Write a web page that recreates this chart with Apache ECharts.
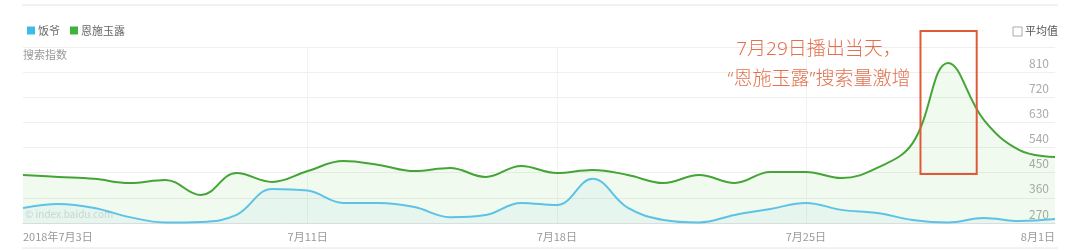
<!DOCTYPE html>
<html>
<head>
<meta charset="utf-8">
<script src="https://cdn.jsdelivr.net/npm/echarts@6/dist/echarts.min.js"></script>
<style>
html,body{margin:0;padding:0;background:#fff;}
#c{width:1080px;height:250px;}
</style>
</head>
<body>
<div id="c"></div>
<script>
// ---- data ----
const dates = ['7月3日','7月4日','7月5日','7月6日','7月7日','7月8日','7月9日','7月10日','7月11日','7月12日',
  '7月13日','7月14日','7月15日','7月16日','7月17日','7月18日','7月19日','7月20日','7月21日','7月22日',
  '7月23日','7月24日','7月25日','7月26日','7月27日','7月28日','7月29日','7月30日','7月31日','8月1日'];
const tickLabels = {0:'2018年7月3日', 8:'7月11日', 15:'7月18日', 22:'7月25日', 29:'8月1日'};
const fanye = [324,338,324,291,272,274,299,392,386,342,342,327,291,299,342,334,428,324,281,272,
  299,320,342,317,306,281,272,288,277,284];
const enshi = [442,435,428,413,424,370,449,417,456,492,478,456,467,435,474,449,460,442,413,442,
  413,453,453,431,467,556,843,639,531,506];
const yTicks = [270,360,450,540,630,720,810];
const seriesNames = ['饭爷','恩施玉露'];
const annotation = ['7月29日播出当天，','“恩施玉露”搜索量激增'];

const font = '"Noto Sans CJK SC","Noto Sans",sans-serif';
const annFont = '"Noto Sans","Noto Sans CJK SC",sans-serif';
const chart = echarts.init(document.getElementById('c'));
const option = {
  animation:false,
  textStyle:{fontFamily:font},
  grid:{left:23,right:25,top:47,bottom:27,containLabel:false},
  legend:{
    data:seriesNames, left:22, top:20, icon:'rect', itemWidth:8, itemHeight:8, itemGap:10,
    textStyle:{fontSize:11,color:'#666',fontFamily:font,padding:[0,0,0,-2]}
  },
  xAxis:{
    type:'category', data:dates, boundaryGap:false,
    axisLine:{lineStyle:{color:'#dcdcdc',width:1}},
    axisTick:{show:false},
    axisLabel:{
      interval:(i)=>tickLabels[i]!==undefined,
      formatter:(v,i)=>tickLabels[i]||'',
      color:'#999', fontSize:11, margin:8,
      alignMinLabel:'left', alignMaxLabel:'right'
    },
    splitLine:{show:true, interval:(i)=>i===8||i===15||i===22, lineStyle:{color:'#f2f2f2'}}
  },
  yAxis:{
    type:'value', position:'right', min:270, max:900, interval:90,
    axisLine:{show:false}, axisTick:{show:false},
    axisLabel:{
      inside:true, verticalAlign:'bottom', margin:6, padding:[0,0,3,0],
      color:'#aaa', fontSize:12,
      formatter:(v)=>yTicks.indexOf(v)>=0?String(v):''
    },
    splitLine:{lineStyle:{color:'#efefef'}}
  },
  series:[
    {
      name:'恩施玉露', type:'line', data:enshi, smooth:0.4, showSymbol:false,
      lineStyle:{color:'#44a536',width:2}, itemStyle:{color:'#3cb43c'},
      areaStyle:{color:'rgba(90,200,70,0.12)'}, z:2
    },
    {
      name:'饭爷', type:'line', data:fanye, smooth:0.4, showSymbol:false,
      lineStyle:{color:'#5cc3e6',width:2}, itemStyle:{color:'#3dbbe8'},
      areaStyle:{color:'rgba(80,190,230,0.10)'}, z:3
    }
  ]
};
chart.setOption(option);

// annotation box positions derived from the axes (interpolated between categories)
const a25 = chart.convertToPixel({gridIndex:0},[25, 445]);
const a26 = chart.convertToPixel({gridIndex:0},[26, 445]);
const step = a26[0]-a25[0];
const bx1 = a25[0] + 0.22*step, bx2 = a25[0] + 1.8*step;
const topY = 31;
chart.setOption({
  graphic:[
    {type:'line', shape:{x1:22,y1:5,x2:1058,y2:5}, style:{stroke:'#e2e2e2',lineWidth:1}},
    {type:'line', shape:{x1:22,y1:248,x2:1058,y2:248}, style:{stroke:'#e6e6e6',lineWidth:1}},
    {type:'text', left:23, top:49, style:{text:'搜索指数', fill:'#9a9a9a', font:'11px '+font}},
    {type:'text', left:25, top:209, style:{text:'© index.baidu.com', fill:'#dadada', font:'10px '+font}},
    {type:'rect', shape:{x:1013,y:27,width:9,height:9}, style:{fill:'#fff',stroke:'#aaa',lineWidth:1}},
    {type:'text', left:1025, top:25, style:{text:'平均值', fill:'#555', font:'11px '+font}},
    {type:'rect', shape:{x:bx1,y:topY,width:bx2-bx1,height:a25[1]-topY},
      style:{fill:'none',stroke:'#e05a3a',lineWidth:2}, z:10},
    {type:'text', x:819, y:50, style:{text:annotation[0], fill:'#e2704e', font:'300 19px '+annFont, textAlign:'center', textVerticalAlign:'middle'}, z:10},
    {type:'text', x:819, y:80, style:{text:annotation[1], fill:'#e2704e', font:'300 19px '+annFont, textAlign:'center', textVerticalAlign:'middle'}, z:10}
  ]
});
</script>
</body>
</html>
